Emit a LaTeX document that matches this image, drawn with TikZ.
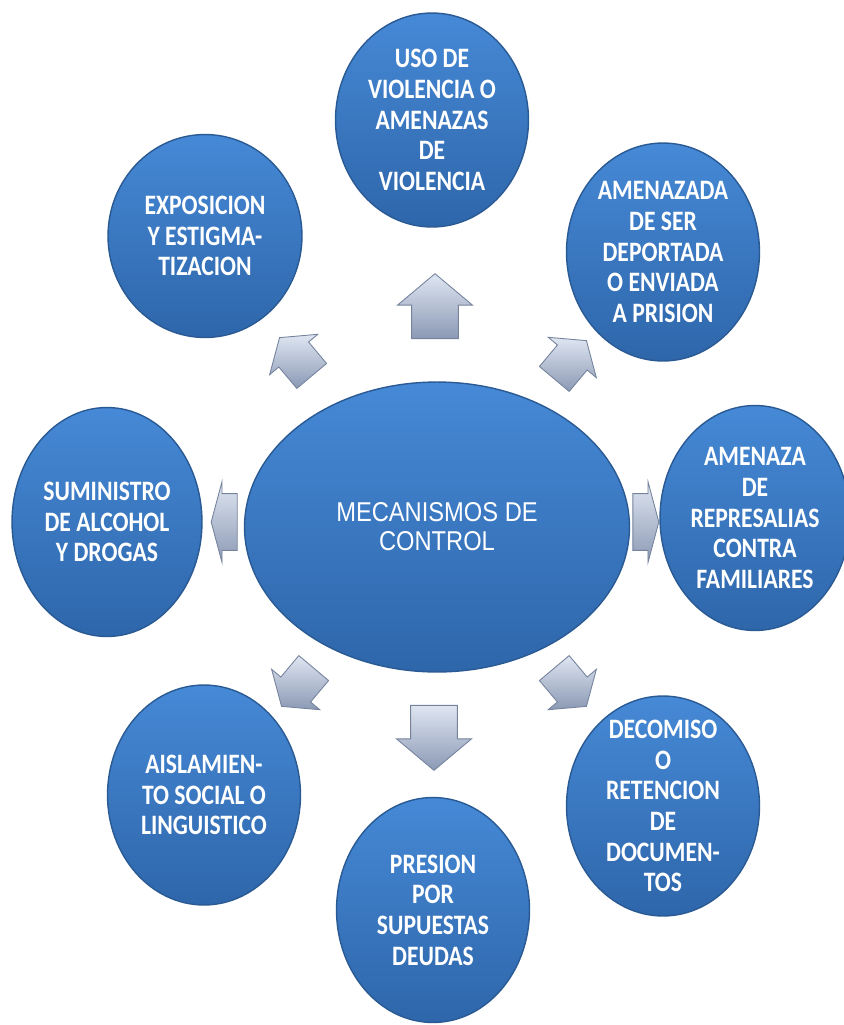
\documentclass[tikz,border=0pt]{standalone}
\usepackage{fontspec}
\newfontfamily\circfont[FakeStretch=0.84]{Carlito}
\newfontfamily\centrofont[FakeStretch=0.87]{Liberation Sans}
\usepackage{tikz}
\usetikzlibrary{shapes.geometric,shapes.arrows,positioning}

\definecolor{azulclaro}{HTML}{4689D6}
\definecolor{azuloscuro}{HTML}{2E66AA}
\definecolor{azulborde}{HTML}{2A5A94}
\definecolor{flechaclara}{HTML}{DFE6F2}
\definecolor{flechaoscura}{HTML}{8B99B4}
\definecolor{flechaborde}{HTML}{75839C}

\begin{document}
\begin{tikzpicture}[x=0.02cm, y=-0.02cm,
		circulo/.style = {ellipse, draw=azulborde, line width=0.8pt, top color=azulclaro, bottom color=azuloscuro, inner sep=0pt, minimum width=3.86cm, minimum height=4.4cm},
		centro/.style  = {circulo, minimum width=7.7cm, minimum height=5.8cm, text=white, align=center, font=\centrofont\fontsize{15.5}{16.5}\selectfont},
		texto/.style   = {text=white, align=center, inner sep=0pt, font=\circfont\bfseries\fontsize{16}{17.5}\selectfont},
		flecha/.style  = {single arrow, draw=flechaborde, line width=0.5pt, top color=flechaclara, bottom color=flechaoscura, inner xsep=0pt, text height=0pt, text depth=0pt, text width=0pt}]
		
		\useasboundingbox (0,0) rectangle (844,1025);
		
		% central ellipse
		\node[centro] (cm) at (437,527) {MECANISMOS DE\\CONTROL};
		
		% the eight outer circles, clockwise from the top
		\node[circulo, minimum height=4.28cm] (c1) at (432,120) {};
		\node[circulo, minimum height=4.36cm] (c2) at (663,252) {};
		\node[circulo, minimum width=3.8cm, minimum height=4.5cm] (c3) at (755,518) {};
		\node[circulo] (c4) at (663,806) {};
		\node[circulo, minimum height=4.5cm] (c5) at (433,910) {};
		\node[circulo] (c6) at (204,795) {};
		\node[circulo, minimum width=3.8cm, minimum height=4.58cm] (c7) at (107,522) {};
		\node[circulo, minimum width=3.88cm, minimum height=4.06cm] (c8) at (205,236) {};
		
		% texts inside the circles
		\begin{scope}[every node/.style={texto}]
			\node (t1) at (c1) {USO DE\\VIOLENCIA O\\AMENAZAS\\DE\\VIOLENCIA};
			\node (t2) at (c2) {AMENAZADA\\DE SER\\DEPORTADA\\O ENVIADA\\A PRISION};
			\node (t3) at (c3) {AMENAZA\\DE\\REPRESALIAS\\CONTRA\\FAMILIARES};
			\node (t4) at (c4) {DECOMISO\\O\\RETENCION\\DE\\DOCUMEN-\\TOS};
			\node (t5) at (c5) {PRESION\\POR\\SUPUESTAS\\DEUDAS};
			\node (t6) at (c6) {AISLAMIEN-\\TO SOCIAL O\\LINGUISTICO};
			\node (t7) at (c7) {SUMINISTRO\\DE ALCOHOL\\Y DROGAS};
			\node (t8) at (c8) {EXPOSICION\\Y ESTIGMA-\\TIZACION};
		\end{scope}
		
		% block arrows around the central ellipse
		\foreach \n/\x/\y/\ang/\lon/\cuerpo/\ext/\punta in {1/435/316/90/65/46/14/100, 2/566/365/50/50/38/12/110, 3/642/522/0/26/56/12/150, 4/566/682/-50/50/38/12/110, 5/434/728/-90/65/46/14/100, 6/302/682/230/50/38/12/110, 7/228/522/180/26/56/12/150, 8/300/362/130/50/38/12/110}
		\node[flecha, rotate=\ang, single arrow tip angle=\punta, minimum height=\lon*0.02cm, inner ysep=\cuerpo*0.01cm, single arrow head extend=\ext*0.02cm] (f\n) at (\x,\y) {};
		
	\end{tikzpicture}
\end{document}
